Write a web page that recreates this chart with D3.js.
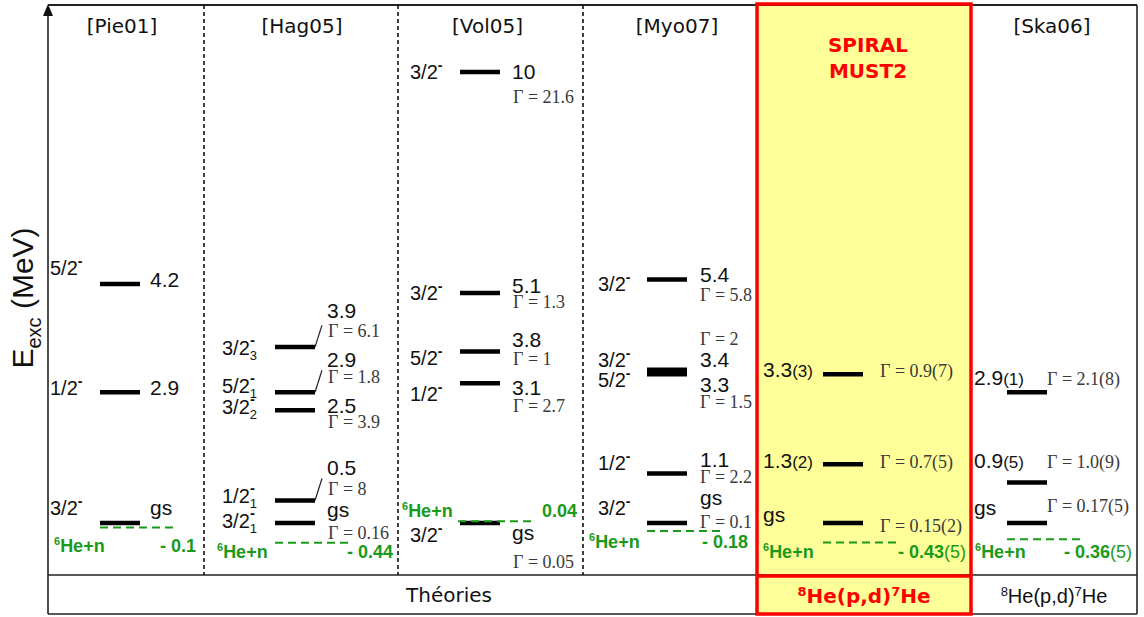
<!DOCTYPE html>
<html><head><meta charset="utf-8">
<script src="https://cdn.jsdelivr.net/npm/d3@7"></script>
<style>body{margin:0;background:#fff}</style>
</head><body><svg id="c" width="1144" height="617"></svg>
<script>
// ================= DATA =================
const columns = ["Pie01", "Hag05", "Vol05", "Myo07", "SPIRAL", "Ska06"];
const columnTitles = ["[Pie01]", "[Hag05]", "[Vol05]", "[Myo07]", "", "[Ska06]"];
const experimentTitle = ["SPIRAL", "MUST2"];

// energies in MeV (the 4.2 level of Pie01 is drawn at ~5.3 on the scheme)
const pie01Energies = [5.3, 2.9, 0];
const pie01Spins = ["5/2", "1/2", "3/2"];
const pie01Values = ["4.2", "2.9", "gs"];
const pie01Widths = [null, null, null];

const hag05Energies = [3.9, 2.9, 2.5, 0.5, 0];
const hag05Spins = ["3/2_3", "5/2_1", "3/2_2", "1/2_1", "3/2_1"];
const hag05Values = ["3.9", "2.9", "2.5", "0.5", "gs"];
const hag05Widths = ["6.1", "1.8", "3.9", "8", "0.16"];

const vol05Energies = [10, 5.1, 3.8, 3.1, 0];
const vol05Spins = ["3/2", "3/2", "5/2", "1/2", "3/2"];
const vol05Values = ["10", "5.1", "3.8", "3.1", "gs"];
const vol05Widths = ["21.6", "1.3", "1", "2.7", "0.05"];

const myo07Energies = [5.4, 3.4, 3.3, 1.1, 0];
const myo07Spins = ["3/2", "3/2", "5/2", "1/2", "3/2"];
const myo07Values = ["5.4", "3.4", "3.3", "1.1", "gs"];
const myo07Widths = ["5.8", "2", "1.5", "2.2", "0.1"];

const spiralEnergies = [3.3, 1.3, 0];
const spiralSpins = [null, null, null];
const spiralValues = ["3.3(3)", "1.3(2)", "gs"];
const spiralWidths = ["0.9(7)", "0.7(5)", "0.15(2)"];

const ska06Energies = [2.9, 0.9, 0];
const ska06Spins = [null, null, null];
const ska06Values = ["2.9(1)", "0.9(5)", "gs"];
const ska06Widths = ["2.1(8)", "1.0(9)", "0.17(5)"];

const thresholdEnergies = [-0.1, -0.44, 0.04, -0.18, -0.43, -0.36];
const thresholdLabels = ["- 0.1", "- 0.44", "0.04", "- 0.18", "- 0.43(5)", "- 0.36(5)"];
const thresholdName = "He+n";
const thresholdMass = "6";

const footerLabels = ["Théories", "He(p,d)", "He(p,d)"];
const yAxisTitle = ["E", "exc", " (MeV)"];

// ================= LAYOUT =================
const W = 1144, H = 617;
const frame = {left: 48, right: 1137, top: 5, plotBottom: 575, bottom: 614};
const colEdges = [48, 204, 398, 583, 757, 971, 1137];
const barStart = [100, 275, 460, 647, 823, 1007];
const barLen = 40;
const spinX = [50, 222, 410, 598, null, null];
const valX = [150, 327, 512, 700, 763, 974];
const gamX = [null, 328, 513, 700, 880, 1047];
const titleNudge = [-4, 1, -3, 7, 0, -2];
// per-level vertical nudges [spin, value, gamma] relative to the level line
const nudges = [
  [[-9, 3, 0], [3, 3, 0], [-8, -8, 0]],
  [[8, -29, -10], [1, -25, -9], [4, 3, 18], [3, -25, -5], [5, -6, 16]],
  [[7, 7, 31], [7, 0, 15], [13, -5, 13], [18, 12, 29], [19, 17, 45]],
  [[12, 3, 22], [-3, -3, -25], [13, 18, 34], [-3, -6, 10], [-8, -18, 5]],
  [[0, 3, 3], [0, 4, 4], [0, -1, 9]],
  [[0, -7, -7], [0, -14, -14], [0, -8, -11]]
];
const thrNameX = [54, 217, 402, 589, 763, 975];
const thrValX = [196, 393, 577, 748, 966, 1132];
const thrDy = [24, 15, -4, 17, 16, 19];

const GREEN = "#1a9a1a", RED = "#ff0000", YELLOW = "#ffff99";
const SANS = "'Liberation Sans', Arial, sans-serif";
const SERIF = "'Liberation Serif', 'Times New Roman', serif";
const TITLEF = "'DejaVu Sans', sans-serif";

const colData = [
  {E: pie01Energies, S: pie01Spins, V: pie01Values, G: pie01Widths},
  {E: hag05Energies, S: hag05Spins, V: hag05Values, G: hag05Widths},
  {E: vol05Energies, S: vol05Spins, V: vol05Values, G: vol05Widths},
  {E: myo07Energies, S: myo07Spins, V: myo07Values, G: myo07Widths},
  {E: spiralEnergies, S: spiralSpins, V: spiralValues, G: spiralWidths},
  {E: ska06Energies, S: ska06Spins, V: ska06Values, G: ska06Widths}
];

// ================= SCALES =================
const y = d3.scaleLinear().domain([0, 10]).range([523, 72]);
const xBar = d3.scaleOrdinal().domain(columns).range(barStart);
const xLeft = d3.scaleOrdinal().domain(columns).range(colEdges.slice(0, 6));
const xRight = d3.scaleOrdinal().domain(columns).range(colEdges.slice(1));

const svg = d3.select("#c");
svg.append("rect").attr("width", W).attr("height", H).attr("fill", "#fff");

// experiment highlight fill
const sp = "SPIRAL";
svg.append("rect").attr("x", xLeft(sp)).attr("y", frame.top - 1)
  .attr("width", xRight(sp) - xLeft(sp)).attr("height", frame.bottom - frame.top + 1)
  .attr("fill", YELLOW);

// frame
const fr = svg.append("g").attr("stroke", "#222").attr("fill", "none");
fr.append("line").attr("x1", frame.left).attr("x2", frame.right).attr("y1", frame.top).attr("y2", frame.top).attr("stroke-width", 2.2);
fr.append("line").attr("x1", frame.right).attr("x2", frame.right).attr("y1", frame.top).attr("y2", frame.bottom).attr("stroke-width", 1.6);
fr.append("line").attr("x1", frame.left).attr("x2", frame.right).attr("y1", frame.plotBottom).attr("y2", frame.plotBottom).attr("stroke-width", 1.6);
fr.append("line").attr("x1", frame.left).attr("x2", frame.right).attr("y1", frame.bottom).attr("y2", frame.bottom).attr("stroke-width", 1.6);
fr.append("line").attr("x1", frame.left).attr("x2", frame.left).attr("y1", frame.bottom).attr("y2", frame.top + 6).attr("stroke-width", 1.6);
svg.append("path").attr("d", `M${frame.left},${frame.top - 1} L${frame.left - 5},${frame.top + 11} L${frame.left + 5},${frame.top + 11} Z`).attr("fill", "#111");

// dashed separators between theory columns
svg.append("g").selectAll("line").data(columns.slice(0, 3)).join("line")
  .attr("x1", d => xRight(d)).attr("x2", d => xRight(d))
  .attr("y1", frame.top).attr("y2", frame.plotBottom)
  .attr("stroke", "#111").attr("stroke-width", 1.6).attr("stroke-dasharray", "4,3");

// experiment red border
svg.append("rect").attr("x", xLeft(sp)).attr("y", frame.top - 1)
  .attr("width", xRight(sp) - xLeft(sp)).attr("height", frame.bottom - frame.top + 1)
  .attr("fill", "none").attr("stroke", RED).attr("stroke-width", 3.5);
svg.append("line").attr("x1", xLeft(sp)).attr("x2", xRight(sp))
  .attr("y1", frame.plotBottom + 1).attr("y2", frame.plotBottom + 1)
  .attr("stroke", RED).attr("stroke-width", 3.5);

// column titles
svg.append("g").selectAll("text").data(columns).join("text")
  .attr("x", (d, i) => (xLeft(d) + xRight(d)) / 2 + titleNudge[i]).attr("y", 33)
  .attr("text-anchor", "middle").attr("font-family", TITLEF).attr("font-size", 20).attr("fill", "#111")
  .text((d, i) => columnTitles[i]);
svg.append("g").selectAll("text").data(experimentTitle).join("text")
  .attr("x", (xLeft(sp) + xRight(sp)) / 2 + 4).attr("y", (d, i) => 52 + i * 26)
  .attr("text-anchor", "middle").attr("font-family", TITLEF).attr("font-weight", "bold")
  .attr("font-size", 20).attr("fill", RED).text(d => d);

// y axis title
const yt = svg.append("text").attr("transform", "translate(33,298) rotate(-90)")
  .attr("text-anchor", "middle").attr("font-family", SANS).attr("font-size", 30).attr("fill", "#111");
yt.append("tspan").text(yAxisTitle[0]);
yt.append("tspan").attr("font-size", 20).attr("dy", 8).text(yAxisTitle[1]);
yt.append("tspan").attr("dy", -8).text(yAxisTitle[2]);

function spinLabel(t, s) {
  const parts = s.split("_");
  t.append("tspan").text(parts[0]);
  if (parts[1]) {
    t.append("tspan").attr("font-size", 13).attr("dy", 5).text(parts[1]);
    t.append("tspan").attr("font-size", 15).attr("font-weight", "bold").attr("dx", -7).attr("dy", -15).text("-");
  } else {
    t.append("tspan").attr("font-size", 14).attr("font-weight", "bold").attr("dy", -9).text("-");
  }
}
function valueLabel(t, v) {
  const m = v.match(/^(.*?)(\(\d+\))$/);
  if (m) {
    t.append("tspan").text(m[1]);
    t.append("tspan").attr("font-size", 17).text(m[2]);
  } else t.text(v);
}

// levels
columns.forEach((c, ci) => {
  const d = colData[ci];
  const g = svg.append("g");
  const x0 = xBar(c);
  const levels = d.E.map((e, i) => ({e, i}));
  g.selectAll("line.lvl").data(levels).join("line").attr("class", "lvl")
    .attr("x1", x0).attr("x2", x0 + barLen)
    .attr("y1", l => y(l.e)).attr("y2", l => y(l.e))
    .attr("stroke", "#000").attr("stroke-width", 4.5);
  levels.forEach(l => {
    const by = y(l.e), nd = nudges[ci][l.i];
    if (d.S[l.i]) {
      const t = g.append("text").attr("x", spinX[ci]).attr("y", by + nd[0])
        .attr("font-family", SANS).attr("font-size", 20).attr("fill", "#111");
      spinLabel(t, d.S[l.i]);
    }
    const tv = g.append("text").attr("x", valX[ci]).attr("y", by + nd[1])
      .attr("font-family", SANS).attr("font-size", 21).attr("fill", "#111");
    valueLabel(tv, d.V[l.i]);
    if (d.G[l.i]) {
      g.append("text").attr("x", gamX[ci]).attr("y", by + nd[2])
        .attr("font-family", SERIF).attr("font-size", 18).attr("fill", "#3a3a3a")
        .text("Γ = " + d.G[l.i]);
    }
    if (ci === 1 && nd[1] < -20) {
      g.append("line").attr("x1", x0 + barLen).attr("y1", by)
        .attr("x2", x0 + barLen + 7).attr("y2", by - 22)
        .attr("stroke", "#222").attr("stroke-width", 1.2);
    }
  });
});

// 6He+n thresholds
columns.forEach((c, ci) => {
  const ty = y(thresholdEnergies[ci]);
  const x0 = xBar(c) - (ci === 2 ? 2 : 0);
  svg.append("line").attr("x1", x0).attr("x2", x0 + 77).attr("y1", ty).attr("y2", ty)
    .attr("stroke", GREEN).attr("stroke-width", 2).attr("stroke-dasharray", "8,5");
  const tn = svg.append("text").attr("x", thrNameX[ci]).attr("y", ty + thrDy[ci])
    .attr("font-family", SANS).attr("font-size", 18).attr("font-weight", "bold").attr("fill", GREEN);
  tn.append("tspan").attr("font-size", 11).attr("dy", -7).text(thresholdMass);
  tn.append("tspan").attr("dy", 7).text(thresholdName);
  const tv = svg.append("text").attr("x", thrValX[ci]).attr("y", ty + thrDy[ci])
    .attr("text-anchor", "end").attr("font-family", SANS).attr("font-size", 18)
    .attr("font-weight", "bold").attr("fill", GREEN);
  const m = thresholdLabels[ci].match(/^(.*?)(\(\d+\))$/);
  if (m) {
    tv.append("tspan").text(m[1]);
    tv.append("tspan").attr("font-weight", "normal").text(m[2]);
  } else tv.text(thresholdLabels[ci]);
});

// footer
svg.append("text").attr("x", 449).attr("y", 602).attr("text-anchor", "middle")
  .attr("font-family", TITLEF).attr("font-size", 20).attr("fill", "#111").text(footerLabels[0]);
function reaction(x, color, bold, font) {
  const t = svg.append("text").attr("x", x).attr("y", 603).attr("text-anchor", "middle")
    .attr("font-family", font).attr("font-size", 20).attr("fill", color)
    .attr("font-weight", bold ? "bold" : "normal");
  t.append("tspan").attr("font-size", 13).attr("dy", -7).text("8");
  t.append("tspan").attr("dy", 7).text(footerLabels[1].slice(0, 2));
  t.append("tspan").text(footerLabels[1].slice(2));
  t.append("tspan").attr("font-size", 13).attr("dy", -7).text("7");
  t.append("tspan").attr("dy", 7).text("He");
}
reaction((xLeft(sp) + xRight(sp)) / 2, RED, true, TITLEF);
reaction((xLeft("Ska06") + xRight("Ska06")) / 2, "#111", false, SANS);
</script></body></html>
